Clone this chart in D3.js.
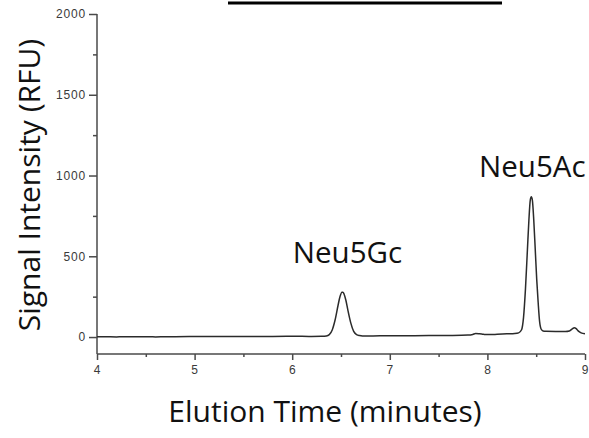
<!DOCTYPE html>
<html>
<head>
<meta charset="utf-8">
<script src="https://cdn.jsdelivr.net/npm/d3@7"></script>
<style>
  html, body { margin: 0; padding: 0; background: #fff; }
  svg { display: block; }
</style>
</head>
<body>
<svg id="chart" width="589" height="438"></svg>
<script>
// Fluorescence HPLC trace of DMB-labelled sialic acids
const elutionTime = [
  4.0, 4.2, 4.4, 4.6, 4.8, 5.0, 5.2, 5.4, 5.6, 5.8, 6.0, 6.2, 6.3,
  6.35, 6.38, 6.41, 6.44, 6.47, 6.49, 6.51, 6.52, 6.53, 6.55, 6.57, 6.6,
  6.63, 6.66, 6.69, 6.72, 6.8, 7.0, 7.2, 7.4, 7.6, 7.8, 7.85, 7.88, 7.92,
  7.96, 8.0, 8.1, 8.2, 8.28, 8.32, 8.35, 8.37, 8.39, 8.41, 8.425, 8.44,
  8.45, 8.46, 8.475, 8.49, 8.505, 8.52, 8.535, 8.55, 8.57, 8.6, 8.7, 8.8,
  8.84, 8.87, 8.89, 8.91, 8.93, 8.96, 9.0
];
const signalRFU = [
  2, 1, 2, 1, 2, 3, 3, 4, 3, 4, 5, 4, 5,
  7, 15, 44, 107, 197, 251, 278, 278, 268, 228, 168, 88,
  35, 15, 9, 7, 7, 8, 8, 9, 10, 12, 16, 22, 20,
  17, 15, 17, 20, 22, 26, 45, 120, 298, 540, 722, 850,
  868, 850, 725, 545, 360, 215, 95, 50, 38, 36, 35, 35,
  38, 50, 58, 52, 38, 26, 20
];

const peakLabels = ["Neu5Gc", "Neu5Ac"];
const peakTimes = [6.515, 8.45];
const peakHeights = [278, 868];

const xTicks = [4, 5, 6, 7, 8, 9];
const xMinorTicks = [4.5, 5.5, 6.5, 7.5, 8.5];
const yTicks = [0, 500, 1000, 1500, 2000];
const yMinorTicks = [250, 750, 1250, 1750];

const xTitle = "Elution Time (minutes)";
const yTitle = "Signal Intensity (RFU)";

const svg = d3.select("#chart");

const x = d3.scaleLinear().domain([4, 9]).range([97, 585]);
const y = d3.scaleLinear().domain([-105, 2000]).range([354, 14]);

const axisColor = "#4a4a4a";
const tickFont = "'Liberation Sans', Arial, sans-serif";
const titleFont = "'Open Sans', 'Noto Sans', sans-serif";

// header rule across the top
svg.append("line")
  .attr("x1", 228).attr("x2", 502)
  .attr("y1", 3).attr("y2", 3)
  .attr("stroke", "#000").attr("stroke-width", 3);

// x axis
const gx = svg.append("g").attr("transform", `translate(0,${y.range()[0]})`);
gx.call(d3.axisBottom(x).tickValues(xTicks).tickFormat(d3.format("d")).tickSize(6).tickPadding(5));
gx.append("g").call(d3.axisBottom(x).tickValues(xMinorTicks).tickFormat("").tickSize(3))
  .select(".domain").remove();

// y axis
const gy = svg.append("g").attr("transform", `translate(${x.range()[0]},0)`);
gy.call(d3.axisLeft(y).tickValues(yTicks).tickFormat(d3.format("d")).tickSize(8).tickPadding(3));
gy.append("g").call(d3.axisLeft(y).tickValues(yMinorTicks).tickFormat("").tickSize(4))
  .select(".domain").remove();

gx.select(".domain").attr("d", `M${x.range()[0]},0H${x.range()[1]}`);
gy.select(".domain").attr("d", `M0,${y.range()[0]}V${y.range()[1]}`);

svg.selectAll(".domain, .tick line")
  .attr("stroke", axisColor).attr("stroke-width", 1.5);
svg.selectAll(".tick text")
  .attr("fill", "#3a3a3a")
  .style("font-family", tickFont)
  .style("font-size", "12px")
  .style("letter-spacing", "0.8px");

// chromatogram trace
const pts = elutionTime.map((t, i) => [t, signalRFU[i]]);
svg.append("path")
  .datum(pts)
  .attr("fill", "none")
  .attr("stroke", "#2b2b2b")
  .attr("stroke-width", 1.5)
  .attr("stroke-linejoin", "round")
  .attr("d", d3.line().x(d => x(d[0])).y(d => y(d[1])).curve(d3.curveMonotoneX));

// peak annotations
svg.selectAll(".peak-label")
  .data(peakLabels)
  .join("text")
  .attr("class", "peak-label")
  .attr("x", (d, i) => x(peakTimes[i]) + (i === 0 ? 5 : 1))
  .attr("y", (d, i) => y(peakHeights[i]) - (i === 0 ? 29 : 20))
  .attr("text-anchor", "middle")
  .attr("fill", "#111")
  .style("font-family", titleFont)
  .style("font-size", "29.5px")
  .text(d => d);

// axis titles
svg.append("text")
  .attr("x", 325).attr("y", 422)
  .attr("text-anchor", "middle")
  .attr("fill", "#111")
  .style("font-family", titleFont)
  .style("font-size", "30px")
  .text(xTitle);

svg.append("text")
  .attr("transform", "translate(40,185) rotate(-90)")
  .attr("text-anchor", "middle")
  .attr("fill", "#111")
  .style("font-family", titleFont)
  .style("font-size", "30px")
  .text(yTitle);
</script>
</body>
</html>
